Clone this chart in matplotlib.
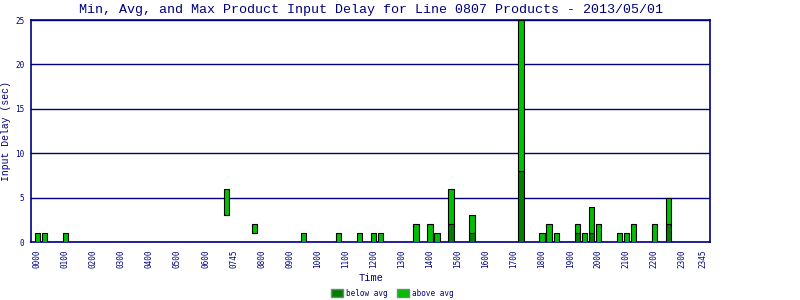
import numpy as np
import matplotlib.pyplot as plt
from matplotlib.patches import Patch

# 15-minute slots (0 = 00:00 ... 95 = 23:45)
slots = [0, 1, 4, 27, 31, 38, 43, 46, 48, 49, 54, 56, 57, 59, 62, 69,
         72, 73, 74, 77, 78, 79, 80, 83, 84, 85, 88, 90]
min_delay = [0, 0, 0, 3, 1, 0, 0, 0, 0, 0, 0, 0, 0, 0, 0, 0,
             0, 0, 0, 0, 0, 0, 0, 0, 0, 0, 0, 0]
avg_delay = [0, 0, 0, 3, 1, 0, 0, 0, 0, 0, 0, 0, 0, 2, 1, 8,
             0, 0, 0, 1, 0, 1, 0, 0, 0, 0, 0, 2]
max_delay = [1, 1, 1, 6, 2, 1, 1, 1, 1, 1, 2, 2, 1, 6, 3, 25,
             1, 2, 1, 2, 1, 4, 2, 1, 1, 2, 2, 5]

tick_slots = [0, 4, 8, 12, 16, 20, 24, 28, 32, 36, 40, 44, 48, 52, 56, 60,
              64, 68, 72, 76, 80, 84, 88, 92, 95]
tick_labels = ["0000", "0100", "0200", "0300", "0400", "0500", "0600", "0745",
               "0800", "0900", "1000", "1100", "1200", "1300", "1400", "1500",
               "1600", "1700", "1800", "1900", "2000", "2100", "2200", "2300",
               "2345"]

navy = "#000080"
dark = "#008000"
light = "#00c000"
mono = "Liberation Mono"
small = "DejaVu Sans Mono"

x = np.array(slots)
mn = np.array(min_delay)
av = np.array(avg_delay)
mx = np.array(max_delay)

fig = plt.figure(figsize=(8, 3), dpi=100)
ax = fig.add_axes([0.039, 0.193, 0.849, 0.74])

ax.bar(x, av - mn, bottom=mn, width=0.75, color=dark, edgecolor="black", linewidth=0.8, zorder=3)
ax.bar(x, mx - av, bottom=av, width=0.75, color=light, edgecolor="black", linewidth=0.8, zorder=3)

ax.set_xlim(-0.86, 96)
ax.set_ylim(0, 25)
ax.set_yticks([0, 5, 10, 15, 20, 25])
ax.set_xticks(tick_slots)
ax.set_xticklabels(tick_labels, rotation=90, fontsize=5.5, family=small, color=navy)
for lab in ax.get_yticklabels():
    lab.set_fontsize(5.5)
    lab.set_family(small)
    lab.set_color(navy)
ax.tick_params(axis="both", length=0, pad=5)
ax.yaxis.grid(True, color=navy, linewidth=1, zorder=0)
for s in ax.spines.values():
    s.set_color(navy)
    s.set_linewidth(1.2)

ax.set_title("Min, Avg, and Max Product Input Delay for Line 0807 Products - 2013/05/01",
             fontsize=9.6, family=mono, color=navy, pad=5)
ax.set_ylabel("Input Delay (sec)", fontsize=7, family=mono, color=navy, labelpad=3)
ax.set_xlabel("Time", fontsize=7.5, family=mono, color=navy, labelpad=4)

handles = [Patch(facecolor=dark, edgecolor="gray", label="below avg"),
           Patch(facecolor=light, edgecolor="gray", label="above avg")]
leg = fig.legend(handles=handles, loc="lower center", bbox_to_anchor=(0.49, -0.015), ncol=2,
                 frameon=False, prop={"family": small, "size": 5.5},
                 handlelength=1.6, handleheight=1.1, handletextpad=0.4, columnspacing=1.2)
for t in leg.get_texts():
    t.set_color(navy)

fig.savefig("out.png", dpi=100)
